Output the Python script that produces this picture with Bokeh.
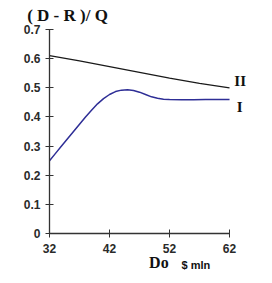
from bokeh.plotting import figure
from bokeh.models import Label, FixedTicker, Range1d, LinearAxis
from bokeh.embed import file_html
from bokeh.resources import INLINE

# data
x_II = [32, 37, 42, 47, 52, 57, 62]
y_II = [0.61, 0.592, 0.573, 0.553, 0.533, 0.515, 0.50]
x_I = [32, 33, 34, 35, 36, 37, 38, 39, 40, 41, 42, 43, 44, 45, 46, 47, 48, 49, 50, 51, 52, 54, 56, 58, 60, 62]
y_I = [0.25, 0.275, 0.30, 0.325, 0.35, 0.375, 0.40, 0.423, 0.445, 0.463, 0.477, 0.487, 0.492, 0.493, 0.491, 0.485, 0.477, 0.469, 0.464, 0.461, 0.46, 0.459, 0.459, 0.46, 0.46, 0.46]
x_ticks = [32, 42, 52, 62]
y_ticks = [0, 0.1, 0.2, 0.3, 0.4, 0.5, 0.6, 0.7]

p = figure(width=264, height=275, output_backend="svg", toolbar_location=None,
           x_range=Range1d(23.83, 67.83), y_range=Range1d(-0.144, 0.7995),
           x_axis_location=None, y_axis_location=None,
           min_border=0)
p.outline_line_color = None
p.grid.visible = False
p.background_fill_color = "white"

p.line(x_II, y_II, line_color="#1a1a1a", line_width=1.3)
p.line(x_I, y_I, line_color="#2e2e96", line_width=1.5)

xa = LinearAxis(fixed_location=0, bounds=(32, 62), ticker=FixedTicker(ticks=x_ticks))
ya = LinearAxis(fixed_location=32, bounds=(0, 0.7), ticker=FixedTicker(ticks=y_ticks))
for ax in (xa, ya):
    ax.axis_line_color = "#333333"
    ax.axis_line_width = 1.3
    ax.major_tick_line_color = "#333333"
    ax.major_tick_in = 4
    ax.major_tick_out = 4
    ax.minor_tick_line_color = None
    ax.major_label_text_font = "Liberation Sans"
    ax.major_label_text_font_style = "bold"
    ax.major_label_text_font_size = "12px"
    ax.major_label_text_color = "#2a2a2a"
ya.major_label_overrides = {0: "0"}
xa.major_label_standoff = 6
ya.major_label_standoff = 5
p.add_layout(xa, "below")
p.add_layout(ya, "left")

p.add_layout(Label(x=35, y=0.715, text="( D - R )/ Q", text_font="Liberation Serif",
                   text_font_style="bold", text_font_size="17px", text_align="center",
                   text_baseline="bottom", text_color="#111111"))
p.add_layout(Label(x=62.8, y=0.495, text="II", text_font="Liberation Serif",
                   text_font_style="bold", text_font_size="15px", text_align="left",
                   text_baseline="bottom", text_color="#111111"))
p.add_layout(Label(x=63.2, y=0.405, text="I", text_font="Liberation Serif",
                   text_font_style="bold", text_font_size="15px", text_align="left",
                   text_baseline="bottom", text_color="#111111"))
p.add_layout(Label(x=48.6, y=-0.127, text="Do", text_font="Liberation Serif",
                   text_font_style="bold", text_font_size="16px", text_align="left",
                   text_baseline="bottom", text_color="#111111"))
p.add_layout(Label(x=54.0, y=-0.13, text="$ mln", text_font="Liberation Sans",
                   text_font_style="bold", text_font_size="11px", text_align="left",
                   text_baseline="bottom", text_color="#111111"))

open("out.html", "w").write(file_html(p, INLINE))
